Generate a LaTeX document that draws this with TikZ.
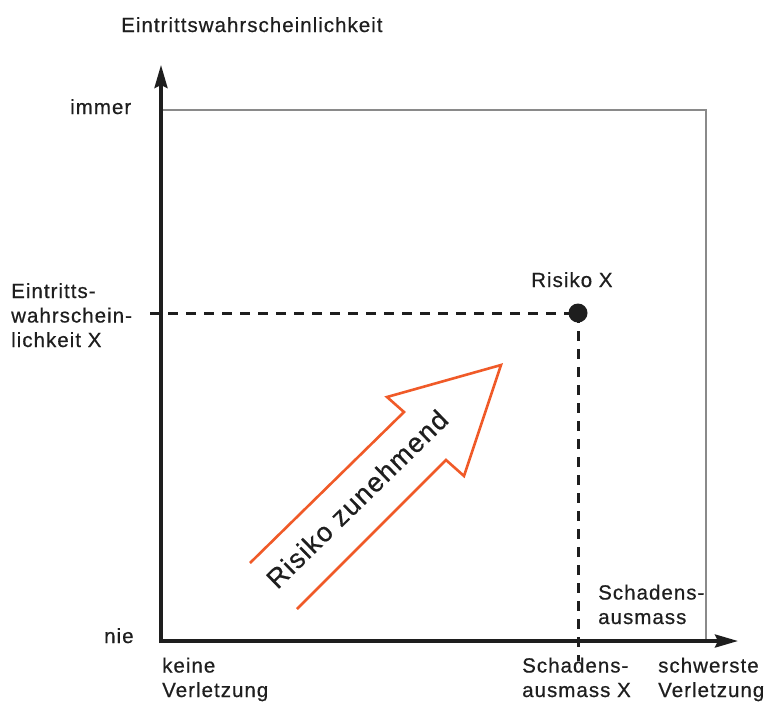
\documentclass[tikz,border=0pt]{standalone}
\usepackage{fontspec}
\setmainfont{Liberation Sans}[LetterSpace=5, FakeBold=0.6]
\usetikzlibrary{arrows.meta}
\definecolor{ink}{HTML}{1E1E1E}
\definecolor{frame}{HTML}{8A8A8A}
\definecolor{riskorange}{HTML}{F05A28}
\tikzset{
  lbl/.style={inner sep=0pt, text=ink, align=left, font=\fontsize{20.5}{24.5}\selectfont},
  axis/.style={draw=ink, line width=3.4pt, -{Stealth[length=23pt,width=13pt,inset=3pt]}},
  guide/.style={draw=ink, line width=3pt, dash pattern=on 10pt off 8pt},
}
\begin{document}
\begin{tikzpicture}[x=1pt,y=-1pt]
\useasboundingbox (0,0) rectangle (767,702);

% reference points of the chart
\coordinate (O) at (161,641);
\coordinate (ytip) at (161,65);
\coordinate (xtip) at (738,641);
\coordinate (corner) at (706,110);
\coordinate (hstart) at (150,313);
\coordinate (vend) at (578,661);

% thin frame of the value range
\draw[frame, line width=1.8pt] (O) rectangle (corner);

% dashed guides to the risk point
\node[circle, fill=ink, minimum size=19pt, inner sep=0pt] (rx) at (578,313) {};
\draw[guide] (hstart) -- (rx.center);
\draw[guide] (rx.center) -- (vend);

% axes
\draw[axis] (161,643) -- (ytip);
\draw[axis] (159.3,641) -- (xtip);

% orange outline arrow
\draw[riskorange, line width=2.6pt, line join=miter]
  (250,563) -- (404,412) -- (387,397) -- (501,365) -- (464,476) -- (446,460) -- (297,609);
\node[lbl, font=\fontsize{27}{30}\selectfont, rotate=44.3] (trend) at (357,499) {Risiko zunehmend};

% labels (base anchor sits on the last line of a block)
\node[lbl, anchor=base west] (ytitle) at (121,32) {Eintrittswahrscheinlichkeit};
\node[lbl, anchor=base west] (always) at (70,114) {immer};
\node[lbl, anchor=base west] (never) at (104,643) {nie};
\node[lbl, anchor=base west] (yx) at (11,347) {Eintritts-\\wahrschein-\\lichkeit X};
\node[lbl, anchor=base west] (rxlabel) at (531,287) {Risiko X};
\node[lbl, anchor=base west] (xtitle) at (598,624) {Schadens-\\ausmass};
\node[lbl, anchor=base west] (none) at (162,697) {keine\\Verletzung};
\node[lbl, anchor=base west] (xx) at (522,697) {Schadens-\\ausmass X};
\node[lbl, anchor=base west] (worst) at (658,697) {schwerste\\Verletzung};
\end{tikzpicture}
\end{document}
